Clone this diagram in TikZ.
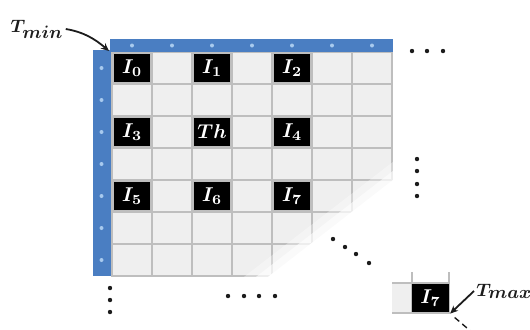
\documentclass[tikz,border=0pt]{standalone}
\usetikzlibrary{arrows.meta,positioning}
\definecolor{ink}{HTML}{1C1C1C}
\definecolor{barblue}{HTML}{4A7EC2}
\definecolor{barspot}{HTML}{A8CAEE}
\definecolor{cellfill}{HTML}{EFEFEF}
\definecolor{cellline}{HTML}{BEBEBE}

\begin{document}
\begin{tikzpicture}[x=0.5pt,y=-0.5pt,
  cell/.style={draw=cellline,fill=cellfill,line width=.6pt,minimum width=20pt,
    minimum height=16pt,inner sep=0pt},
  pix/.style={fill=black,draw=cellline,line width=.6pt,minimum width=19pt,
    minimum height=15pt,inner sep=0pt,text=white,font=\boldmath},
  lbl/.style={text=ink,font=\boldmath\small,inner sep=1pt},
  arrow/.style={draw=ink,line width=.9pt,-{Stealth[length=4pt,width=3.5pt]}},
  spot/.style={fill=barspot},
  dot/.style={fill=ink}
]
\useasboundingbox (0,0) rectangle (530,329);
% grid of 7x7 cells
\foreach \c in {0,...,6}
  \foreach \r in {0,...,6}
    \node[cell] (c\c\r) at ({132+40*\c},{68+32*\r}) {};
% the image blocks
\node[pix] (i0) at (c00) {$I_0$};
\node[pix] (i1) at (c20) {$I_1$};
\node[pix] (i2) at (c40) {$I_2$};
\node[pix] (i3) at (c02) {$I_3$};
\node[pix] (th) at (c22) {$Th$};
\node[pix] (i4) at (c42) {$I_4$};
\node[pix] (i5) at (c04) {$I_5$};
\node[pix] (i6) at (c24) {$I_6$};
\node[pix] (i7) at (c44) {$I_7$};
% cut off lower right corner
\fill[white,opacity=.35] (240,280) -- (398,280) -- (398,158) -- cycle;
\fill[white,opacity=.6] (252,280) -- (398,280) -- (398,167) -- cycle;
\fill[white] (264,280) -- (398,280) -- (398,176) -- cycle;
% blue bars
\fill[barblue] (110,39) rectangle (393,52);
\fill[barblue] (93,50) rectangle (111,276);
\foreach \c in {0,...,6} {
  \fill[spot] ({132+40*\c},45.5) circle (1pt);
  \fill[spot] (101.5,{68+32*\c}) circle (1pt);
}
% continuation dots
\foreach \x in {412,427,443} \fill[dot] (\x,51) circle (1.1pt);
\foreach \y in {159,171,184,196} \fill[dot] (417,\y) circle (1.1pt);
\foreach \x/\y in {333/239,345/247,356/254,369/263} \fill[dot] (\x,\y) circle (1.1pt);
\foreach \y in {288,300,312} \fill[dot] (110,\y) circle (1.1pt);
\foreach \x in {228,244,259,275} \fill[dot] (\x,296) circle (1.1pt);
% last block
\fill[cellfill] (392,283) rectangle (412,313);
\draw[cellline,line width=.6pt] (392,283) -- (412,283) (392,313) -- (412,313)
  (412,272) -- (412,283) (449,272) -- (449,283);
\node[pix] (i7b) at (430.5,298) {$I_7$};
% labels
\node[lbl] (tmin) at (37,29) {$T_{\textstyle min}$};
\node[lbl,anchor=west] (tmax) at (474,291) {$T_{\textstyle max}$};
\coordinate (gridcorner) at (109,51);
\coordinate (tail) at (474,334);
\draw[arrow] (tmin.east) .. controls +(18,3) and +(-14,-12) .. (gridcorner);
\draw[arrow] (tmax.west) -- (i7b.south east);
\draw[ink,line width=.7pt,dash pattern=on 3pt off 2pt,shorten <=3pt] (i7b.south east) -- (tail);
\end{tikzpicture}
\end{document}
